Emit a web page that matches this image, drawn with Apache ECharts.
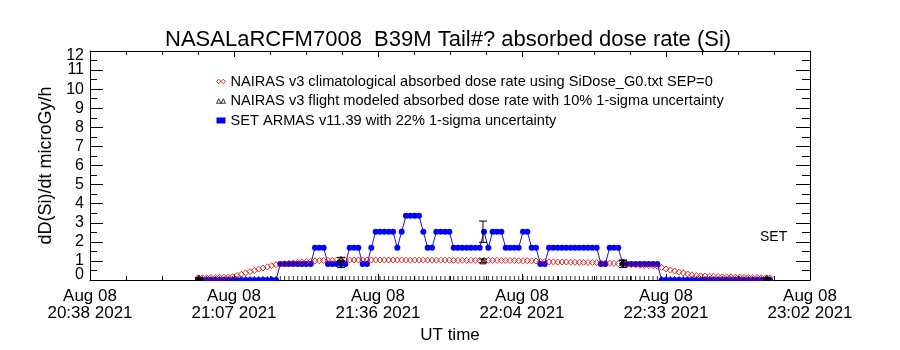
<!DOCTYPE html>
<html>
<head>
<meta charset="utf-8">
<script src="https://cdn.jsdelivr.net/npm/echarts@6/dist/echarts.min.js"></script>
<style>html,body{margin:0;padding:0;background:#fff}#c{width:900px;height:350px}</style>
</head>
<body>
<div id="c"></div>
<script>
// sample times: seconds after 20:38:00 UT, 08 Aug 2021
const sampleTimes = [
1296,1348,1400,1452,1504,1556,1608,1660,1712,1764,
1816,1868,1920,1972,2024,2076,2128,2180,2232,2284,
2336,2388,2440,2492,2544,2596,2648,2700,2752,2804,
2856,2908,2960,3012,3064,3116,3168,3220,3272,3324,
3376,3428,3480,3532,3584,3636,3688,3740,3792,3844,
3896,3948,4000,4052,4104,4156,4208,4260,4312,4364,
4416,4468,4520,4572,4624,4676,4728,4780,4832,4884,
4936,4988,5040,5092,5144,5196,5248,5300,5352,5404,
5456,5508,5560,5612,5664,5716,5768,5820,5872,5924,
5976,6028,6080,6132,6184,6236,6288,6340,6392,6444,
6496,6548,6600,6652,6704,6756,6808,6860,6912,6964,
7016,7068,7120,7172,7224,7276,7328,7380,7432,7484,
7536,7588,7640,7692,7744,7796,7848,7900,7952,8004,
8056,8108,8160];

// NAIRAS v3 climatological absorbed dose rate (microGy/h)
const climValues = [
0.12,0.12,0.12,0.13,0.13,0.14,0.15,0.16,0.18,0.24,
0.30,0.37,0.44,0.50,0.57,0.63,0.69,0.75,0.80,0.84,
0.86,0.88,0.90,0.92,0.94,0.96,0.98,1.00,1.01,1.02,
1.03,1.03,1.04,1.04,1.04,1.05,1.05,1.05,1.05,1.05,
1.05,1.05,1.05,1.05,1.05,1.05,1.05,1.05,1.04,1.04,
1.04,1.04,1.04,1.04,1.04,1.04,1.04,1.04,1.04,1.03,
1.03,1.03,1.03,1.03,1.03,1.03,1.03,1.03,1.03,1.03,
1.02,1.02,1.02,1.02,1.01,1.01,1.01,1.00,0.99,0.97,
0.96,0.95,0.95,0.94,0.94,0.94,0.93,0.93,0.93,0.92,
0.92,0.92,0.91,0.90,0.89,0.88,0.87,0.86,0.85,0.83,
0.81,0.79,0.77,0.76,0.75,0.74,0.72,0.66,0.58,0.52,
0.47,0.41,0.37,0.32,0.27,0.24,0.22,0.21,0.20,0.19,
0.18,0.17,0.16,0.16,0.15,0.15,0.14,0.14,0.13,0.13,
0.12,0.12,0.12];

// SET ARMAS v11.39 measured absorbed dose rate (microGy/h)
const setValues = [
0,0,0,0,0,0,0,0,0,0,
0,0,0,0,0,0,0,0,0,0.84,
0.84,0.84,0.84,0.84,0.84,0.84,0.84,1.69,1.69,1.69,
0.84,0.84,0.84,0.84,0.84,1.69,1.69,1.69,0.84,0.84,
1.69,2.53,2.53,2.53,2.53,2.53,1.69,2.53,3.37,3.37,
3.37,3.37,2.53,1.69,1.69,2.53,2.53,2.53,2.53,1.69,
1.69,1.69,1.69,1.69,1.69,1.69,2.53,1.69,2.53,2.53,
2.53,1.69,1.69,1.69,1.69,2.53,2.53,1.69,1.69,0.84,
0.84,1.69,1.69,1.69,1.69,1.69,1.69,1.69,1.69,1.69,
1.69,1.69,1.69,0.84,0.84,1.69,1.69,1.69,0.84,0.84,
0.84,0.84,0.84,0.84,0.84,0.84,0.84,0,0,0,
0,0,0,0,0,0,0,0,0,0,
0,0,0,0,0,0,0,0,0,0,
0,0,0];

// zero-level flag marks along the flight
const flagValues = [
0,0,0,0,0,0,0,0,0,0, 0,0,0,0,0,0,0,0,0,0,
0,0,0,0,0,0,0,0,0,0, 0,0,0,0,0,0,0,0,0,0,
0,0,0,0,0,0,0,0,0,0, 0,0,0,0,0,0,0,0,0,0,
0,0,0,0,0,0,0,0,0,0, 0,0,0,0,0,0,0,0,0,0,
0,0,0,0,0,0,0,0,0,0, 0,0,0,0,0,0,0,0,0,0,
0,0,0,0,0,0,0,0,0,0, 0,0,0,0,0,0,0,0,0,0,
0,0,0,0,0,0,0,0,0,0, 0,0,0];

// NAIRAS v3 flight modeled points (with 10% 1-sigma) and SET at same times (22%)
const flightTimes = [1308, 3012, 4716, 6396, 8124];
const flightValues = [0.10, 1.08, 1.00, 0.95, 0.10];
const setAtFlight = [0, 0.84, 2.53, 0.84, 0];
const nairasSigma = 0.10;
const setSigma = 0.22;

const xTickLabels = ['Aug 08\n20:38 2021','Aug 08\n21:07 2021','Aug 08\n21:36 2021','Aug 08\n22:04 2021','Aug 08\n22:33 2021','Aug 08\n23:02 2021'];
const yTickLabels = ['0','1','2','3','4','5','6','7','8','9','10','11','12'];

const legendNames = [
  'NAIRAS v3 climatological absorbed dose rate using SiDose_G0.txt SEP=0',
  'NAIRAS v3 flight modeled absorbed dose rate with 10% 1-sigma uncertainty',
  'SET ARMAS v11.39 with 22% 1-sigma uncertainty'
];

const FONT = 'Liberation Sans';
const chart = echarts.init(document.getElementById('c'), null, {renderer: 'canvas'});

const pair = (xs, ys) => xs.map((t, i) => [t, ys[i]]);
const errData = [];
flightTimes.forEach((t, i) => {
  const v = flightValues[i];
  errData.push([t, v * (1 - nairasSigma), v * (1 + nairasSigma)]);
  const s = setAtFlight[i];
  errData.push([t, s * (1 - setSigma), s * (1 + setSigma)]);
});

function renderErr(params, api) {
  const lo = api.coord([api.value(0), api.value(1)]);
  const hi = api.coord([api.value(0), api.value(2)]);
  const w = 4;
  const st = {stroke: '#000', lineWidth: 1};
  return {type: 'group', children: [
    {type: 'line', shape: {x1: lo[0], y1: lo[1], x2: hi[0], y2: hi[1]}, style: st},
    {type: 'line', shape: {x1: lo[0] - w, y1: lo[1], x2: lo[0] + w, y2: lo[1]}, style: st},
    {type: 'line', shape: {x1: hi[0] - w, y1: hi[1], x2: hi[0] + w, y2: hi[1]}, style: st}
  ]};
}

// end labels of the y axis sit slightly inside the frame, as in the reference
function yEndLabel(v) {
  const i = Math.round(v);
  if (i === 0) return yTickLabels[i] + '\n';
  return '\n' + yTickLabels[i];
}

const xAxisBase = {
  type: 'value', min: 0, max: 8640, interval: 1728,
  axisLine: {show: true, onZero: false, lineStyle: {color: '#000', width: 1}},
  axisTick: {show: true, inside: true, length: 6, lineStyle: {color: '#000'}},
  minorTick: {show: true, splitNumber: 4, length: 4, lineStyle: {color: '#000'}},
  splitLine: {show: false}, minorSplitLine: {show: false}
};
const yAxisBase = {
  type: 'value', min: 0, max: 12, interval: 1,
  axisLine: {show: true, onZero: false, lineStyle: {color: '#000', width: 1}},
  axisTick: {show: true, inside: true, length: 13, lineStyle: {color: '#000'}},
  minorTick: {show: true, splitNumber: 2, length: 7, lineStyle: {color: '#000'}},
  splitLine: {show: false}, minorSplitLine: {show: false}
};

const option = {
  backgroundColor: '#fff',
  animation: false,
  textStyle: {fontFamily: FONT},
  title: {
    text: 'NASALaRCFM7008  B39M Tail#? absorbed dose rate (Si)',
    left: 160, top: 24,
    textStyle: {fontFamily: FONT, fontSize: 22, fontWeight: 'normal', color: '#000'}
  },
  grid: {left: 90, right: 90, top: 51, bottom: 70},
  legend: {
    orient: 'vertical', left: 211, top: 69, itemGap: 4.5,
    itemWidth: 9, itemHeight: 6, selectedMode: false,
    textStyle: {fontFamily: FONT, fontSize: 14.6, color: '#000', lineHeight: 15},
    data: [
      {name: legendNames[0], icon: 'path://M0,3L3,0L6,3L3,6Z M6,3L9,0L12,3L9,6Z',
       itemStyle: {color: 'rgba(0,0,0,0)', borderColor: '#c80000', borderWidth: 1}},
      {name: legendNames[1], icon: 'path://M0,6L3,0L6,6Z M6,6L9,0L12,6Z',
       itemStyle: {color: 'rgba(0,0,0,0)', borderColor: '#000', borderWidth: 1}},
      {name: legendNames[2], icon: 'rect', itemStyle: {color: '#0000ff'}}
    ]
  },
  xAxis: [
    Object.assign({}, xAxisBase, {
      position: 'bottom',
      name: 'UT time', nameLocation: 'middle', nameGap: 44,
      nameTextStyle: {fontFamily: FONT, fontSize: 17, color: '#000'},
      axisLabel: {show: true, margin: 8, fontFamily: FONT, fontSize: 17, color: '#000', lineHeight: 17,
        showMinLabel: true, showMaxLabel: true, hideOverlap: false,
        formatter: v => xTickLabels[Math.round(v / 1728)] || ''}
    }),
    Object.assign({}, xAxisBase, {position: 'top', axisLabel: {show: false}})
  ],
  yAxis: [
    Object.assign({}, yAxisBase, {
      position: 'left',
      name: 'dD(Si)/dt microGy/h', nameLocation: 'middle', nameGap: 33, nameRotate: 90,
      nameTextStyle: {fontFamily: FONT, fontSize: 18, color: '#000'},
      axisLabel: {show: true, margin: 6, fontFamily: FONT, fontSize: 16, color: '#000',
        showMinLabel: false, showMaxLabel: false,
        formatter: v => yTickLabels[Math.round(v)]}
    }),
    Object.assign({}, yAxisBase, {position: 'right', axisLabel: {show: false},
      axisTick: {show: true, inside: true, length: 14, lineStyle: {color: '#000'}},
      minorTick: {show: true, splitNumber: 2, length: 8, lineStyle: {color: '#000'}}}),
    // carries only the end labels 0 and 12 of the left axis
    {
      type: 'value', min: 0, max: 12, interval: 12, position: 'left',
      axisLine: {show: false, onZero: false}, axisTick: {show: false},
      minorTick: {show: false}, splitLine: {show: false},
      axisLabel: {show: true, margin: 6, fontFamily: FONT, fontSize: 16, color: '#000',
        lineHeight: 10, showMinLabel: true, showMaxLabel: true, formatter: yEndLabel}
    }
  ],
  graphic: [
    {type: 'rect', z: 100, shape: {x: 84, y: 281, width: 732, height: 6}, style: {fill: '#fff'}},
    {type: 'text', z: 100, left: 760, top: 230,
     style: {text: 'SET', fontFamily: FONT, fontSize: 14, fill: '#000'}}
  ],
  series: [
    {
      name: 'flags', type: 'scatter', data: pair(sampleTimes, flagValues),
      symbol: 'rect', symbolSize: [1, 8], itemStyle: {color: '#000'}, z: 1, silent: true
    },
    {
      name: legendNames[2], type: 'line', data: pair(sampleTimes, setValues),
      symbol: 'circle', symbolSize: 6, showSymbol: true,
      itemStyle: {color: '#0000ff'}, lineStyle: {color: '#1818c0', width: 1}, z: 2
    },
    {
      name: legendNames[0], type: 'scatter', data: pair(sampleTimes, climValues),
      symbol: 'diamond', symbolSize: [6, 6],
      itemStyle: {color: 'rgba(0,0,0,0)', borderColor: '#c80000', borderWidth: 1}, z: 3
    },
    {
      name: legendNames[1], type: 'scatter', data: pair(flightTimes, flightValues),
      symbol: 'triangle', symbolSize: 6,
      itemStyle: {color: 'rgba(0,0,0,0)', borderColor: '#000', borderWidth: 1}, z: 4
    },
    {
      name: 'errbars', type: 'custom', data: errData, renderItem: renderErr,
      encode: {x: 0, y: [1, 2]}, z: 5, silent: true
    }
  ]
};
chart.setOption(option);
</script>
</body>
</html>
